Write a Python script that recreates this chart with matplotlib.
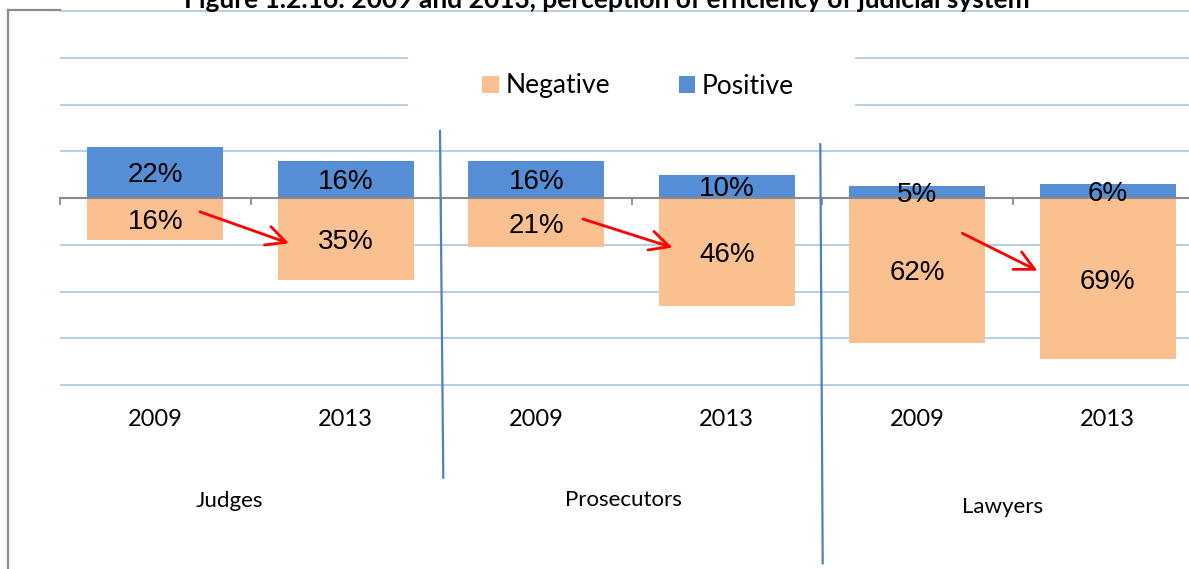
import matplotlib
matplotlib.use("Agg")
import matplotlib.pyplot as plt
from matplotlib.patches import Patch, Rectangle, FancyArrowPatch
from matplotlib.lines import Line2D
from matplotlib.transforms import blended_transform_factory

# ---- data ----
groups = ["Judges", "Prosecutors", "Lawyers"]
years = ["2009", "2013", "2009", "2013", "2009", "2013"]
positive = [22, 16, 16, 10, 5, 6]
negative = [18, 35, 21, 46, 62, 69]
positive_labels = ["22%", "16%", "16%", "10%", "5%", "6%"]
negative_labels = ["16%", "35%", "21%", "46%", "62%", "69%"]
series_names = ["Negative", "Positive"]
title = "Figure 1.2.16: 2009 and 2013, perception of efficiency of judicial system"

# ---- style ----
W, H = 1189, 569
BLUE = "#558ED5"
ORANGE = "#FAC090"
GRID = "#B4C9E6"
AXGRAY = "#8A8A8A"
SEP = "#4F81BD"

def fx(px):
    return px / W

def fy(py):
    return 1 - py / H

fig = plt.figure(figsize=(W / 100, H / 100), dpi=100)
fig.patch.set_facecolor("white")

ax_top, ax_bot = 10, 387
zero_px = 198
ppu = 2.3375  # px per percent
ax = fig.add_axes([fx(60), fy(ax_bot), fx(W - 60), (ax_bot - ax_top) / H])

x = list(range(len(years)))
ax.bar(x, positive, width=0.714, color=BLUE, zorder=3)
ax.bar(x, [-v for v in negative], width=0.714, color=ORANGE, zorder=3)

# grid
ax.set_yticks(range(-80, 81, 20))
ax.yaxis.grid(True, color=GRID, linewidth=1.3, zorder=0)
ax.set_axisbelow(True)
ax.tick_params(axis="y", left=False, labelleft=False)
for s in ["top", "left", "right"]:
    ax.spines[s].set_visible(False)
ax.spines["bottom"].set_position(("data", 0))
ax.spines["bottom"].set_color(AXGRAY)
ax.spines["bottom"].set_linewidth(1.5)
ax.spines["bottom"].set_zorder(4)
ax.set_xticks(x)
ax.set_xticks([i - 0.5 for i in range(len(years) + 1)], minor=True)
ax.tick_params(axis="x", which="both", direction="out", length=4.8, width=1.3,
               color=AXGRAY, labelbottom=False)
# limits after ticks (set_xticks can expand the view)
ax.set_ylim(-(ax_bot - zero_px) / ppu, (zero_px - ax_top) / ppu)
ax.set_xlim(-0.5, -0.5 + (W - 60) / 190.5)

# value labels
lab_font = dict(family="Liberation Sans", fontsize=20, color="black")
for i in x:
    ax.text(i, positive[i] / 2, positive_labels[i], ha="center",
            va="center_baseline", zorder=5, **lab_font)
    ax.text(i, -negative[i] / 2, negative_labels[i], ha="center",
            va="center_baseline", zorder=5, **lab_font)

# year + group labels
bt = blended_transform_factory(ax.transData, fig.transFigure)
for i in x:
    ax.text(i, fy(419), years[i], transform=bt, ha="center", va="center",
            family="Lato", fontsize=17, clip_on=False)
grp_pos = [(229, 501), (623, 500), (1003, 507)]
for g, (gx, gy) in zip(groups, grp_pos):
    fig.text(fx(gx), fy(gy), g, ha="center", va="center", family="Lato", fontsize=16)

# arrows (from 2009 to 2013 negative)
arrows = [((0.235, -5.9), (0.702, -19.4)),
          ((2.245, -9.0), (2.715, -21.2)),
          ((4.237, -15.1), (4.631, -31.1))]
for (a, b) in arrows:
    ax.add_patch(FancyArrowPatch(a, b, arrowstyle="->,head_length=0.7,head_width=0.35",
                                 mutation_scale=20, color="red", lw=2, zorder=6,
                                 shrinkA=0, shrinkB=0))

# legend backdrop covering gridlines
fig.add_artist(Rectangle((fx(408), fy(118)), fx(855 - 408), (118 - 40) / H,
                         transform=fig.transFigure, facecolor="white",
                         edgecolor="none", zorder=1.5))
handles = [Patch(facecolor=ORANGE, label=series_names[0]),
           Patch(facecolor=BLUE, label=series_names[1])]
fig.legend(handles=handles, loc="center", bbox_to_anchor=(fx(638), fy(86)), ncol=2,
           frameon=False, prop=dict(family="Lato", size=19), handlelength=0.64,
           handleheight=0.64, handletextpad=0.25, columnspacing=2.6, borderpad=0)

# separators
fig.add_artist(Line2D([fx(440), fx(443.3)], [fy(131), fy(477.7)], color=SEP, lw=1.6, zorder=5))
fig.add_artist(Line2D([fx(820.3), fx(822.7)], [fy(144.3), fy(563.3)], color=SEP, lw=1.6, zorder=5))

# chart frame
fig.add_artist(Line2D([fx(7.5), fx(7.5)], [fy(10), 0], color="#8C8C8C", lw=1.6))
fig.add_artist(Line2D([fx(7.5), fx(60)], [fy(10), fy(10)], color="#8C8C8C", lw=1.6, zorder=0.5))

# title (cut off at top)
fig.text(fx(607), fy(7.5), title, ha="center", va="baseline", family="Lato",
         fontweight="bold", fontsize=19)

fig.savefig("out.png", dpi=100)
